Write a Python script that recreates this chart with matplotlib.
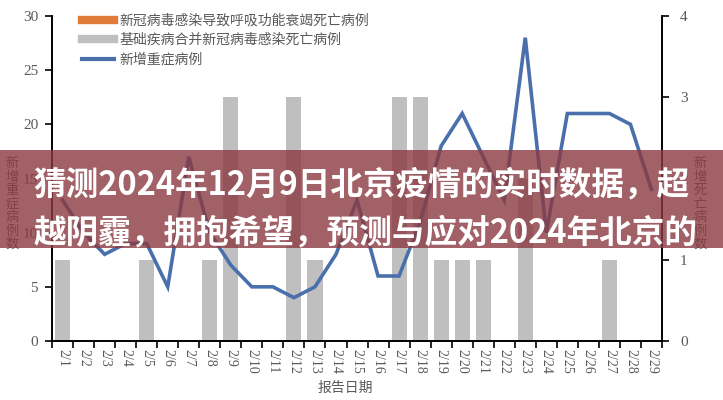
import matplotlib
matplotlib.use("Agg")
import matplotlib.pyplot as plt
from matplotlib.lines import Line2D
from matplotlib.patches import Rectangle
import numpy as np

plt.rcParams['font.family'] = ['Noto Sans CJK SC', 'DejaVu Sans']

dates = [f"2/{d}" for d in range(1, 30)]
severe_cases = [13, 10, 8, 9, 9, 5, 17, 10, 7, 5, 5, 4, 5, 8, 13, 6, 6, 11, 18, 21,
                17, 13, 28, 10, 21, 21, 21, 20, 14]
comorbid_deaths = [1, 0, 0, 0, 1, 0, 0, 1, 3, 0, 0, 3, 1, 0, 0, 0, 3, 3, 1, 1,
                   1, 0, 2, 0, 0, 0, 1, 0, 0]
resp_deaths = [0] * 29
legend_labels = ["新冠病毒感染导致呼吸功能衰竭死亡病例", "基础疾病合并新冠病毒感染死亡病例", "新增重症病例"]
title_lines = ["猜测2024年12月9日北京疫情的实时数据，超", "越阴霾，拥抱希望，预测与应对2024年北京的"]

C_BLUE = '#4A70AC'
C_GRAY = '#BFBFBF'
C_ORANGE = '#E07B39'
C_TXT = '#595959'
serif = ['Liberation Serif', 'DejaVu Serif']

fig = plt.figure(figsize=(7.23, 4.0), dpi=100)
ax = fig.add_axes([0.072, 0.1475, 0.8436, 0.8125])
ax2 = ax.twinx()

x = np.arange(len(dates))
ax2.bar(x, comorbid_deaths, width=0.72, color=C_GRAY, zorder=1)
ax2.bar(x, resp_deaths, width=0.72, color=C_ORANGE, bottom=comorbid_deaths, zorder=1)
ax.plot(x, severe_cases, color=C_BLUE, lw=2.6, zorder=3, solid_joinstyle='miter')

ax.set_zorder(ax2.get_zorder() + 1)
ax.patch.set_visible(False)

ax.set_xlim(-0.5, len(dates) - 0.5)
ax.set_ylim(0, 30)
ax2.set_ylim(0, 4)
ax.set_yticks(range(0, 31, 5))
ax2.set_yticks(range(0, 5))

ax.set_xticks(x)
ax.set_xticklabels(dates, rotation=-90, fontsize=10, color=C_TXT, family=serif)
ax.tick_params(axis='x', which='major', length=0, pad=6)
ax.set_xticks(np.arange(-0.5, len(dates), 1), minor=True)
ax.tick_params(axis='x', which='minor', length=5, width=1.2, direction='out', color='black')

for a in (ax, ax2):
    a.spines['top'].set_visible(False)
    for s in ('left', 'right', 'bottom'):
        a.spines[s].set_color('black')
        a.spines[s].set_linewidth(1.2)
ax.tick_params(axis='y', length=5, width=1.2, direction='out', labelsize=11, labelcolor=C_TXT, pad=5)
ax2.tick_params(axis='y', length=5, width=1.2, direction='out', labelsize=11, labelcolor=C_TXT, pad=8)
for lab in ax.get_yticklabels() + ax2.get_yticklabels():
    lab.set_family(serif)

handles = [Line2D([0], [0], color=C_ORANGE, lw=6),
           Line2D([0], [0], color=C_GRAY, lw=6),
           Line2D([0], [0], color=C_BLUE, lw=3)]
leg = ax.legend(handles, legend_labels, loc='upper left', bbox_to_anchor=(0.04, 1.025),
                frameon=False, fontsize=10, handlelength=2.3, handletextpad=0.4,
                labelspacing=0.4, borderaxespad=0)
for t in leg.get_texts():
    t.set_color(C_TXT)

fig.text(0.017, 0.49, "\n".join("新增重症病例数"), ha='center', va='center',
         fontsize=9.5, color=C_TXT, linespacing=1.05)
fig.text(0.968, 0.49, "\n".join("新增死亡病例数"), ha='center', va='center',
         fontsize=9.5, color=C_TXT, linespacing=1.05)
fig.text(0.477, 0.03, "报告日期", ha='center', va='center', fontsize=10, color=C_TXT)

# overlay banner
fig.patches.append(Rectangle((0, 0.38), 1, 0.245, transform=fig.transFigure,
                             facecolor='#8A3A40', alpha=0.8, zorder=10, edgecolor='none'))
fig.text(0.046, 0.537, title_lines[0], ha='left', va='center', fontsize=23.5,
         fontweight='bold', color='white', zorder=11)
fig.text(0.046, 0.418, title_lines[1], ha='left', va='center', fontsize=23.5,
         fontweight='bold', color='white', zorder=11)

fig.savefig("out.png", dpi=100)
